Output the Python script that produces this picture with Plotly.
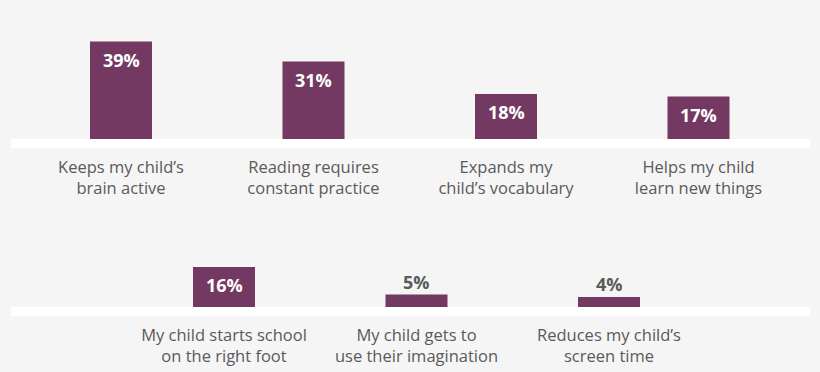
import plotly.graph_objects as go
from plotly.subplots import make_subplots

top_categories = ["Keeps my child’s<br>brain active", "Reading requires<br>constant practice",
                  "Expands my<br>child’s vocabulary", "Helps my child<br>learn new things"]
top_values = [39, 31, 18, 17]
bottom_categories = ["My child starts school<br>on the right foot", "My child gets to<br>use their imagination",
                     "Reduces my child’s<br>screen time"]
bottom_values = [16, 5, 4]

W, H = 820, 372
BAR = "#743962"
BG = "#f5f5f5"
TXT = "#5a5a5a"
FONT = "Open Sans"

fig = make_subplots(rows=2, cols=1)

def py(p):  # pixel y -> paper fraction
    return (H - p) / H

spacing = 192.5
fig.add_trace(go.Bar(x=top_categories, y=top_values, marker=dict(color=BAR, line=dict(width=0)),
                     width=62 / spacing, hoverinfo="skip"), row=1, col=1)
fig.add_trace(go.Bar(x=bottom_categories, y=bottom_values, marker=dict(color=BAR, line=dict(width=0)),
                     width=62 / spacing, hoverinfo="skip"), row=2, col=1)

fig.update_layout(
    width=W, height=H, margin=dict(l=0, r=0, t=0, b=0),
    paper_bgcolor=BG, plot_bgcolor=BG, showlegend=False,
    font=dict(family=FONT, color=TXT, size=16.5),
    xaxis=dict(domain=[0, 1], range=[-121 / spacing, (W - 121) / spacing], showgrid=False,
               zeroline=False, showline=False, ticks="", tickfont=dict(size=16.5, color=TXT, family=FONT),
               ticklabelstandoff=16, fixedrange=True),
    yaxis=dict(domain=[py(139), py(39)], range=[0, 40], visible=False, fixedrange=True),
    xaxis2=dict(domain=[0, 1], range=[-224 / spacing, (W - 224) / spacing], showgrid=False,
                zeroline=False, showline=False, ticks="", tickfont=dict(size=16.5, color=TXT, family=FONT),
                ticklabelstandoff=16, fixedrange=True),
    yaxis2=dict(domain=[py(307), py(207)], range=[0, 40], visible=False, fixedrange=True),
)

for top_px in (139, 307):
    fig.add_shape(type="rect", xref="paper", yref="paper", x0=11 / W, x1=810 / W,
                  y0=py(top_px + 9), y1=py(top_px), fillcolor="white", line=dict(width=0), layer="below")

def label(xref, yref, cats, vals):
    for c, v in zip(cats, vals):
        if v >= 10:
            fig.add_annotation(x=c, y=v, xref=xref, yref=yref, text=f"<b>{v}%</b>", showarrow=False,
                               yanchor="middle", yshift=-18, font=dict(color="white", size=18, family=FONT))
        else:
            fig.add_annotation(x=c, y=v, xref=xref, yref=yref, text=f"<b>{v}%</b>", showarrow=False,
                               yanchor="middle", yshift=13, font=dict(color=TXT, size=18, family=FONT))

label("x", "y", top_categories, top_values)
label("x2", "y2", bottom_categories, bottom_values)

fig.write_html("out.html", config={"displayModeBar": False},
               post_script="document.body.style.margin='0';document.body.style.background='#f5f5f5';")
